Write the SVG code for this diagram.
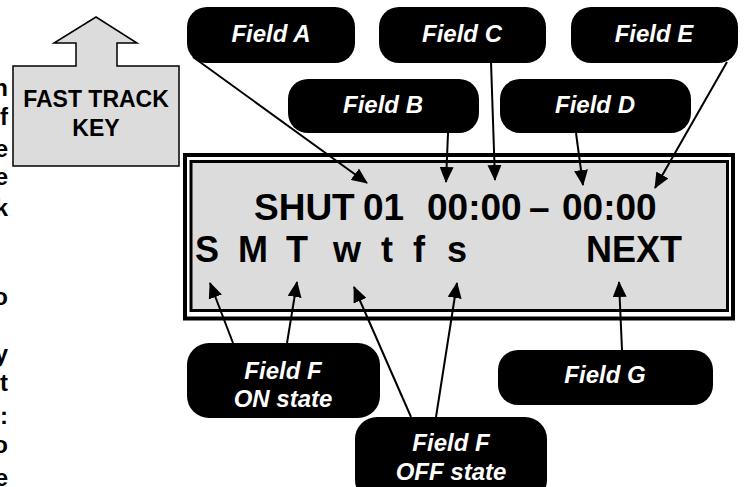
<svg xmlns="http://www.w3.org/2000/svg" width="745" height="487" viewBox="0 0 745 487">
<style>
.callout{fill:#000;}
.ct{font-family:"Liberation Sans",Arial,sans-serif;font-weight:bold;font-style:italic;font-size:24px;fill:#fff;text-anchor:middle;}
.lcd{font-family:"Liberation Sans",Arial,sans-serif;font-weight:bold;font-size:36px;fill:#000;}
.lcd1{font-size:37px;}
.frag{font-family:"Liberation Sans",Arial,sans-serif;font-weight:bold;font-size:24px;fill:#000;text-anchor:end;}
.key{font-family:"Liberation Sans",Arial,sans-serif;font-weight:bold;font-size:23px;fill:#000;text-anchor:middle;}
.conn line{stroke:#000;stroke-width:2;marker-end:url(#ah);}
</style>
<defs>
<marker id="ah" markerUnits="userSpaceOnUse" markerWidth="16" markerHeight="14" viewBox="0 0 16 14" refX="15" refY="7" orient="auto">
<path d="M0,0 L16,7 L0,14 Z" fill="#000"/>
</marker>
</defs>
<rect width="745" height="487" fill="#fff"/>
<g id="page-text-fragments">
<text class="frag" x="8" y="96">n</text>
<text class="frag" x="8" y="125">f</text>
<text class="frag" x="8" y="157">e</text>
<text class="frag" x="8" y="185">e</text>
<text class="frag" x="8" y="216">k</text>
<text class="frag" x="8" y="305">o</text>
<text class="frag" x="8" y="362">y</text>
<text class="frag" x="8" y="391">t</text>
<text class="frag" x="8" y="424">:</text>
<text class="frag" x="8" y="453">o</text>
<text class="frag" x="8" y="486">e</text>
</g>
<g id="fast-track-key">
<polygon points="13,66 76,66 76,43 54,43 96,17 137,43 117,43 117,66 179,66 179,166 13,166" fill="#dcdcdc" stroke="#000" stroke-width="1.5"/>
<text class="key" x="96" y="107">FAST TRACK</text>
<text class="key" x="96" y="136">KEY</text>
</g>
<g id="display">
<rect x="185" y="155" width="548" height="163.5" fill="#fff" stroke="#000" stroke-width="4"/>
<rect x="191" y="161.5" width="536.5" height="149" fill="#dcdcdc" stroke="#000" stroke-width="3"/>
<text class="lcd lcd1" y="220"><tspan x="254">SHUT</tspan><tspan x="363">01</tspan><tspan x="427">00:00</tspan><tspan x="529">–</tspan><tspan x="562">00:00</tspan></text>
<text class="lcd" y="262"><tspan x="195">S</tspan><tspan x="238">M</tspan><tspan x="286">T</tspan><tspan x="333">w</tspan><tspan x="381">t</tspan><tspan x="413">f</tspan><tspan x="447">s</tspan></text>
<text class="lcd" x="682" y="262" text-anchor="end">NEXT</text>
</g>
<g id="field-a"><rect class="callout" x="187" y="7" width="168" height="56" rx="20"/><text class="ct" x="271" y="42">Field A</text></g>
<g id="field-c"><rect class="callout" x="379" y="7" width="167" height="56" rx="20"/><text class="ct" x="462" y="42">Field C</text></g>
<g id="field-e"><rect class="callout" x="571" y="7" width="167" height="56" rx="20"/><text class="ct" x="654" y="42">Field E</text></g>
<g id="field-b"><rect class="callout" x="288" y="79" width="191" height="54" rx="20"/><text class="ct" x="383" y="113">Field B</text></g>
<g id="field-d"><rect class="callout" x="500" y="79" width="191" height="54" rx="20"/><text class="ct" x="595" y="113">Field D</text></g>
<g id="field-f-on"><rect class="callout" x="187" y="343" width="193" height="75" rx="22"/><text class="ct" x="283" y="379">Field F</text><text class="ct" x="283" y="407">ON state</text></g>
<g id="field-g"><rect class="callout" x="498" y="350" width="215" height="55" rx="20"/><text class="ct" x="605" y="383">Field G</text></g>
<g id="field-f-off"><rect class="callout" x="355" y="417" width="192" height="85" rx="22"/><text class="ct" x="451" y="451">Field F</text><text class="ct" x="451" y="480">OFF state</text></g>
<g id="connectors" class="conn">
<line x1="193" y1="57" x2="367" y2="183"/>
<line x1="448" y1="133" x2="446" y2="182"/>
<line x1="491" y1="62" x2="495" y2="180"/>
<line x1="576" y1="133" x2="583" y2="185"/>
<line x1="727" y1="62" x2="655" y2="188"/>
<line x1="233" y1="343" x2="210" y2="283"/>
<line x1="287" y1="343" x2="297" y2="282"/>
<line x1="411" y1="417" x2="354" y2="287"/>
<line x1="436" y1="417" x2="457" y2="283"/>
<line x1="622" y1="350" x2="619" y2="282"/>
</g>
</svg>
